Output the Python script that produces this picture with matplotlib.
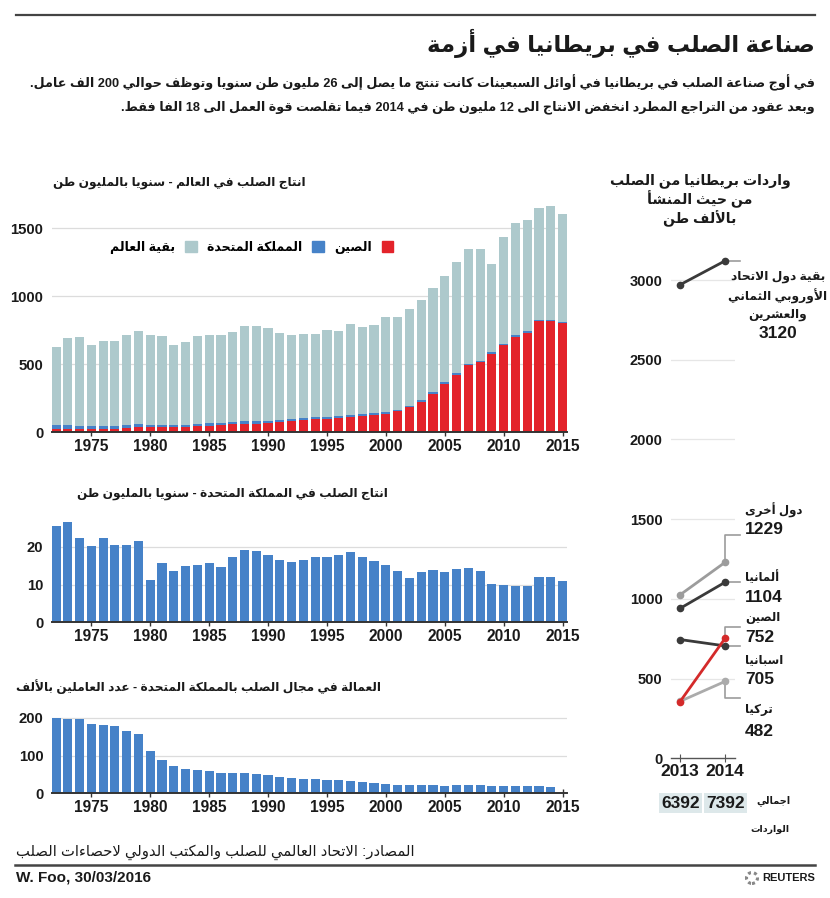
import re
import matplotlib
matplotlib.use("Agg")
import matplotlib.pyplot as plt
from matplotlib.patches import Patch, Ellipse
from matplotlib.lines import Line2D

# ---------------- data ----------------
years = list(range(1972, 2016))
world = [625, 692, 698, 640, 668, 668, 713, 743,
         713, 703, 640, 660, 705, 715, 710, 733, 778, 783,
         768, 730, 716, 723, 721, 748, 745, 797, 775, 787,
         847, 849, 903, 969, 1062, 1147, 1248, 1347, 1344, 1236,
         1432, 1538, 1558, 1650, 1664, 1600]
china = [23, 25, 21, 24, 20, 24, 32, 35,
         37, 36, 37, 40, 43, 47, 52, 56, 59, 62,
         66, 71, 81, 89, 93, 95, 101, 109, 116, 124,
         129, 151, 182, 222, 280, 355, 419, 489, 512, 577,
         639, 702, 731, 815, 815, 800]
uk = [25.4, 26.6, 22.4, 20.2, 22.4, 20.5, 20.4, 21.5,
      11.3, 15.6, 13.7, 15.0, 15.2, 15.8, 14.7, 17.4, 19.0, 18.8,
      17.9, 16.5, 16.0, 16.6, 17.2, 17.4, 17.9, 18.5, 17.2, 16.2,
      15.1, 13.5, 11.6, 13.2, 13.8, 13.3, 14.0, 14.4, 13.6, 10.2,
      9.8, 9.5, 9.5, 11.9, 12.1, 10.9]
emp_years = list(range(1972, 2015))
employment = [200, 197, 196, 184, 181, 177, 164, 156,
              112, 87, 73, 63, 61, 58, 54, 53, 54, 52,
              49, 44, 40, 38, 38, 36, 35, 33, 31, 27,
              25, 21, 21, 22, 21, 20, 21, 22, 22, 19,
              18, 18, 19, 18, 17]
xtick_years = [1975, 1980, 1985, 1990, 1995, 2000, 2005, 2010, 2015]

imp_years = [2013, 2014]
origins = ["بقية دول الاتحاد\nالأوروبي الثماني\nوالعشرين", "دول أخرى", "ألمانيا", "الصين", "اسبانيا", "تركيا"]
imp2013 = [2970, 1025, 940, 355, 745, 357]
imp2014 = [3120, 1229, 1104, 752, 705, 482]
totals = [6392, 7392]

title = "صناعة الصلب في بريطانيا في أزمة"
sub1 = "في أوج صناعة الصلب في بريطانيا في أوائل السبعينات كانت تنتج ما يصل إلى 26 مليون طن سنويا وتوظف حوالي 200 الف عامل."
sub2 = "وبعد عقود من التراجع المطرد انخفض الانتاج الى 12 مليون طن في 2014 فيما تقلصت قوة العمل الى 18 الفا فقط."
t_world = "انتاج الصلب في العالم - سنويا بالمليون طن"
t_uk = "انتاج الصلب في المملكة المتحدة - سنويا بالمليون طن"
t_emp = "العمالة في مجال الصلب بالمملكة المتحدة - عدد العاملين بالألف"
t_imp = "واردات بريطانيا من الصلب\nمن حيث المنشأ\nبالألف طن"
leg_labels = ["الصين", "المملكة المتحدة", "بقية العالم"]
lbl_total = "اجمالي"
lbl_imports = "الواردات"
source = "المصادر: الاتحاد العالمي للصلب والمكتب الدولي لاحصاءات الصلب"
credit = "W. Foo, 30/03/2016"

# ---------------- Arabic shaping (presentation forms + visual order) ----------------
_F = {}
for ch, base in [("\u0622", 0xFE81), ("\u0623", 0xFE83), ("\u0624", 0xFE85), ("\u0625", 0xFE87),
                 ("\u0627", 0xFE8D), ("\u0629", 0xFE93), ("\u062F", 0xFEA9), ("\u0630", 0xFEAB),
                 ("\u0631", 0xFEAD), ("\u0632", 0xFEAF), ("\u0648", 0xFEED), ("\u0649", 0xFEEF)]:
    _F[ch] = (base, base + 1, None, None)
for ch, base in [("\u0626", 0xFE89), ("\u0628", 0xFE8F), ("\u062A", 0xFE95), ("\u062B", 0xFE99),
                 ("\u062C", 0xFE9D), ("\u062D", 0xFEA1), ("\u062E", 0xFEA5), ("\u0633", 0xFEB1),
                 ("\u0634", 0xFEB5), ("\u0635", 0xFEB9), ("\u0636", 0xFEBD), ("\u0637", 0xFEC1),
                 ("\u0638", 0xFEC5), ("\u0639", 0xFEC9), ("\u063A", 0xFECD), ("\u0641", 0xFED1),
                 ("\u0642", 0xFED5), ("\u0643", 0xFED9), ("\u0644", 0xFEDD), ("\u0645", 0xFEE1),
                 ("\u0646", 0xFEE5), ("\u0647", 0xFEE9), ("\u064A", 0xFEF1)]:
    _F[ch] = (base, base + 1, base + 2, base + 3)
_F["\u0621"] = (0xFE80, None, None, None)
_LA = {"\u0622": (0xFEF5, 0xFEF6), "\u0623": (0xFEF7, 0xFEF8),
       "\u0625": (0xFEF9, 0xFEFA), "\u0627": (0xFEFB, 0xFEFC)}


def _shape(s):
    toks = []
    i = 0
    while i < len(s):
        if s[i] == "\u0644" and i + 1 < len(s) and s[i + 1] in _LA:
            toks.append(("LA", s[i + 1]))
            i += 2
        else:
            toks.append(("C", s[i]))
            i += 1

    def joins_next(t):
        return t[0] == "C" and t[1] in _F and _F[t[1]][2] is not None

    def joins_prev(t):
        return t[0] == "LA" or (t[1] in _F and _F[t[1]][1] is not None)

    out = []
    for k, t in enumerate(toks):
        prev = toks[k - 1] if k > 0 else None
        nxt = toks[k + 1] if k + 1 < len(toks) else None
        pl = prev is not None and joins_next(prev) and joins_prev(t)
        if t[0] == "LA":
            out.append(chr(_LA[t[1]][1] if pl else _LA[t[1]][0]))
            continue
        c = t[1]
        if c not in _F:
            out.append(c)
            continue
        nl = joins_next(t) and nxt is not None and joins_prev(nxt)
        f = _F[c]
        if pl and nl:
            code = f[3]
        elif pl:
            code = f[1]
        elif nl:
            code = f[2]
        else:
            code = f[0]
        out.append(chr(code))
    return "".join(out)


def ar(s):
    lines = []
    for line in s.split("\n"):
        sh = _shape(line)
        parts = re.split(r"([0-9A-Za-z]+(?:[./,][0-9A-Za-z]+)*)", sh)
        vis = [p if i % 2 == 1 else p[::-1] for i, p in enumerate(parts)]
        lines.append("".join(reversed(vis)))
    return "\n".join(lines)


# ---------------- figure ----------------
W, H = 830, 898
FAM = ["Liberation Sans", "DejaVu Sans"]
plt.rcParams["font.family"] = FAM
fig = plt.figure(figsize=(W / 100, H / 100), dpi=100, facecolor="white")


def fx(x):
    return x / W


def fy(y):
    return 1 - y / H


def ptext(x, y, s, **kw):
    kw.setdefault("va", "center")
    kw.setdefault("fontweight", "bold")
    kw.setdefault("color", "#1a1a1a")
    return fig.text(fx(x), fy(y), s, family=FAM, **kw)


def add_ax(left, top, right, bottom):
    return fig.add_axes([fx(left), fy(bottom), (right - left) / W, (bottom - top) / H])


RED = "#e3232a"
BLUE = "#4682c8"
GREYBLUE = "#adc9cc"
GRID = "#dcdcdc"
AXC = "#333333"


def style_bar_axes(ax, yticks, ylim):
    ax.set_xlim(1971.635, 2015.35)
    ax.set_ylim(*ylim)
    for sp in ["top", "right", "left"]:
        ax.spines[sp].set_visible(False)
    ax.spines["bottom"].set_color(AXC)
    ax.spines["bottom"].set_linewidth(1.4)
    ax.set_yticks(yticks)
    ax.set_yticklabels([str(v) for v in yticks])
    ax.set_xticks(xtick_years)
    ax.set_xticklabels([str(v) for v in xtick_years])
    ax.tick_params(axis="y", length=0, pad=6, labelsize=10.7, labelcolor="#1a1a1a")
    ax.tick_params(axis="x", direction="inout", length=6, width=1, color=AXC,
                   pad=2, labelsize=11.2, labelcolor="#1a1a1a")
    for lab in ax.get_xticklabels() + ax.get_yticklabels():
        lab.set_fontweight("bold")
    ax.set_axisbelow(True)
    for v in yticks[1:]:
        ax.axhline(v, color=GRID, lw=0.9, zorder=0)
    ax.patch.set_alpha(0)


# --- top: world production ---
ax1 = add_ax(51.7, 432 - 1700 * 0.136, 566.7, 432)
rest = [w - c - u for w, c, u in zip(world, china, uk)]
cu = [c + u for c, u in zip(china, uk)]
ax1.bar(years, china, width=0.78, color=RED, zorder=2)
ax1.bar(years, uk, width=0.78, bottom=china, color=BLUE, zorder=2)
ax1.bar(years, rest, width=0.78, bottom=cu, color=GREYBLUE, zorder=2)
style_bar_axes(ax1, [0, 500, 1000, 1500], (0, 1700))
handles = [Patch(color=GREYBLUE), Patch(color=BLUE), Patch(color=RED)]
ax1.legend(handles, [ar(leg_labels[2]), ar(leg_labels[1]), ar(leg_labels[0])],
           ncol=3, markerfirst=False, frameon=False, loc="center",
           bbox_to_anchor=(fx(251.5), fy(247)), bbox_transform=fig.transFigure,
           handlelength=0.95, handleheight=0.95, handletextpad=0.8,
           columnspacing=0.8, prop={"family": FAM, "weight": "bold", "size": 9})

# --- middle: UK production ---
ax2 = add_ax(51.7, 622.3 - 27 * 3.78, 566.7, 622.3)
ax2.bar(years, uk, width=0.78, color=BLUE, zorder=2)
style_bar_axes(ax2, [0, 10, 20], (0, 27))

# --- bottom: employment ---
ax3 = add_ax(51.7, 793.3 - 205 * 0.378, 566.7, 793.3)
ax3.bar(emp_years, employment, width=0.78, color=BLUE, zorder=2)
style_bar_axes(ax3, [0, 100, 200], (0, 205))

# --- right: imports slope chart ---
SC = 0.15943
ax4 = add_ax(671, 758.3 - 3250 * SC, 735, 758.3)
ax4.set_xlim(2012.8, 2014.222)
ax4.set_ylim(0, 3250)
for sp in ["top", "right", "left"]:
    ax4.spines[sp].set_visible(False)
ax4.spines["bottom"].set_color("#555555")
ax4.spines["bottom"].set_linewidth(1.0)
ax4.set_xticks(imp_years)
ax4.set_xticklabels([str(v) for v in imp_years])
ax4.set_yticks([0, 500, 1000, 1500, 2000, 2500, 3000])
ax4.set_yticklabels(["0", "500", "1000", "1500", "2000", "2500", "3000"])
ax4.tick_params(axis="y", length=0, pad=6, labelsize=10.5, labelcolor="#1a1a1a")
ax4.tick_params(axis="x", direction="inout", length=6, color="#555555", pad=1,
                labelsize=12.5, labelcolor="#1a1a1a")
for lab in ax4.get_xticklabels() + ax4.get_yticklabels():
    lab.set_fontweight("bold")
for v in [500, 1000, 1500, 2000, 2500, 3000]:
    ax4.axhline(v, color="#e6e6e6", lw=0.9, zorder=0)
ax4.patch.set_alpha(0)

line_cols = ["#3a3a3a", "#9c9c9c", "#3a3a3a", "#d42a2a", "#3a3a3a", "#ababab"]
order = [0, 1, 5, 2, 4, 3]
for i in order:
    ax4.plot(imp_years, [imp2013[i], imp2014[i]], color=line_cols[i], lw=2.0,
             marker="o", ms=4.5, solid_capstyle="round", zorder=3, clip_on=False)

# connectors (2014 point -> label)
CONN = "#9c9c9c"
xe = 2014.333
conn_paths = [
    ([2014, xe], [imp2014[0], imp2014[0]]),
    ([2014, 2014, xe], [imp2014[1], 1402, 1402]),
    ([2014, xe], [imp2014[2], imp2014[2]]),
    ([2014, 2014, xe], [imp2014[3], 826, 826]),
    ([2014, xe], [imp2014[4], imp2014[4]]),
    ([2014, 2014, xe], [imp2014[5], 377, 377]),
]
for xs, ys in conn_paths:
    ax4.add_line(Line2D(xs, ys, color=CONN, lw=1.2, zorder=2, clip_on=False))

# labels of the slope chart
ptext(778, 296, ar(origins[0]), ha="center", fontsize=8.8, linespacing=1.5)
ptext(778, 333, str(imp2014[0]), ha="center", fontsize=12.5)
lab_pos = [(1, 510, 529), (2, 577, 597), (3, 618, 637), (4, 660, 679), (5, 710, 731)]
for i, ya, yn in lab_pos:
    ptext(745, ya, ar(origins[i]), ha="left", fontsize=8.5)
    ptext(745, yn, str(imp2014[i]), ha="left", fontsize=12.5)

ptext(700, 200, ar(t_imp), ha="center", fontsize=10.2, linespacing=1.15)

# totals
for xc, tv in zip([680.5, 725.5], totals):
    ptext(xc, 803, str(tv), ha="center", fontsize=12.5,
          bbox=dict(boxstyle="square,pad=0.12", fc="#dde8ea", ec="none"))
ptext(790, 801, ar(lbl_total), ha="right", fontsize=7)
ptext(789, 829, ar(lbl_imports), ha="right", fontsize=6.8)

# ---------------- header ----------------
fig.add_artist(Line2D([fx(16), fx(815)], [fy(15), fy(15)], color="#444444", lw=1.6))
ptext(815, 43, ar(title), ha="right", fontsize=16.5)
ptext(815, 83, ar(sub1), ha="right", fontsize=9.2)
ptext(815, 107, ar(sub2), ha="right", fontsize=9.2)

# chart titles
ptext(306, 183, ar(t_world), ha="right", fontsize=8.7)
ptext(388, 494, ar(t_uk), ha="right", fontsize=8.7)
ptext(381, 687, ar(t_emp), ha="right", fontsize=8.7)

# ---------------- footer ----------------
ptext(16, 852, ar(source), ha="left", fontsize=10.6, fontweight="normal")
fig.add_artist(Line2D([fx(15), fx(815)], [fy(865), fy(865)], color="#444444", lw=1.8))
ptext(16, 878, credit, ha="left", fontsize=11)
ptext(815, 878, "REUTERS", ha="right", fontsize=8)
fig.add_artist(Ellipse((fx(752), fy(878)), 11 / W, 11 / H, fc="none", ec="#888888",
                       lw=2.2, ls=(0, (1, 1))))

fig.savefig("out.png", dpi=100, facecolor="white")
